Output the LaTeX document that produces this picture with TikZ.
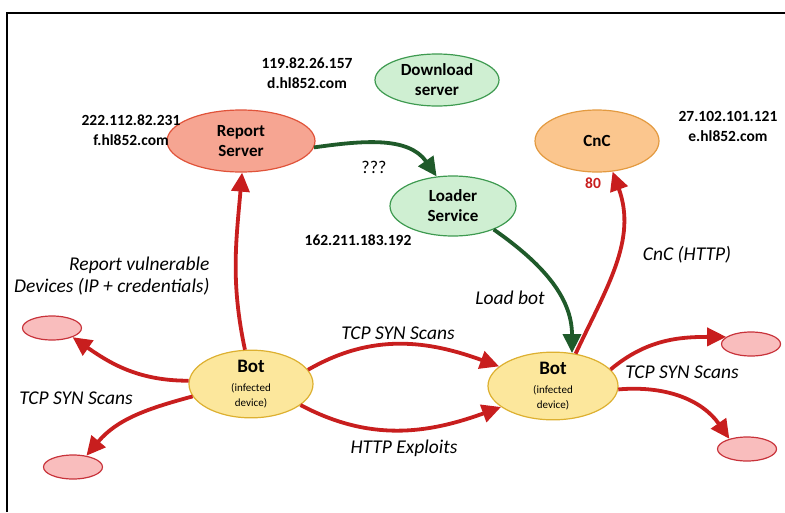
\documentclass[tikz,border=0pt]{standalone}
\usepackage{fontspec}
\setmainfont{Carlito}
\usetikzlibrary{shapes.geometric, arrows.meta}

\definecolor{arrred}{HTML}{C81E1E}
\definecolor{arrgreen}{HTML}{1F5A2A}
\definecolor{repfill}{HTML}{F6A592}
\definecolor{repline}{HTML}{E0533A}
\definecolor{grnfill}{HTML}{CFEFD2}
\definecolor{grnline}{HTML}{3E9A50}
\definecolor{cncfill}{HTML}{FBC68E}
\definecolor{cncline}{HTML}{E39A40}
\definecolor{botfill}{HTML}{FCE79C}
\definecolor{botline}{HTML}{DDB030}
\definecolor{tgtfill}{HTML}{F9BDBD}
\definecolor{tgtline}{HTML}{C8323A}

\begin{document}
\begin{tikzpicture}[x=1pt, y=1pt,
    every node/.style={font=\fontsize{16.5}{20}\selectfont},
    server/.style={ellipse, draw, line width=1.2pt, inner sep=0pt, align=center,
      font=\bfseries\fontsize{17}{20}\selectfont},
    bot/.style={ellipse, draw=botline, fill=botfill, line width=1.2pt, inner sep=0pt,
      align=center, minimum height=56pt},
    target/.style={ellipse, draw=tgtline, fill=tgtfill, line width=1.2pt, inner sep=0pt,
      minimum width=59pt, minimum height=24pt},
    iptext/.style={align=center, font=\bfseries\fontsize{15.5}{20}\selectfont},
    lbl/.style={font=\itshape\fontsize{19.5}{22}\selectfont},
    redarrow/.style={draw=arrred, line width=3.8pt, -{Triangle[length=19pt, width=18pt]}},
    greenarrow/.style={draw=arrgreen, line width=3.8pt, -{Triangle[length=19pt, width=18pt]}}]

  \useasboundingbox (0,0) rectangle (785,-512);
  \draw[line width=1.6pt] (7,-512) -- (7,-13) -- (785,-13);

  % servers
  \node[server, draw=grnline, fill=grnfill, minimum width=124pt, minimum height=52pt] (dl) at (437,-80) {Download\\server};
  \node[server, draw=repline, fill=repfill, minimum width=148pt, minimum height=62pt] (rep) at (241,-141) {Report\\Server};
  \node[server, draw=grnline, fill=grnfill, minimum width=126pt, minimum height=60pt] (loader) at (453,-206) {Loader\\Service};
  \node[server, draw=cncline, fill=cncfill, minimum width=124pt, minimum height=62pt] (cnc) at (597,-141) {CnC};

  % bots
  \node[bot, minimum width=124pt] (botL) at (251,-384) {{\bfseries\fontsize{19}{19}\selectfont Bot}\\[-1pt]{\fontsize{11}{12}\selectfont (infected}\\[-5pt]{\fontsize{11}{12}\selectfont device)}};
  \node[bot, minimum width=130pt, minimum height=57pt] (botR) at (553,-386) {{\bfseries\fontsize{19}{19}\selectfont Bot}\\[-1pt]{\fontsize{11}{12}\selectfont (infected}\\[-5pt]{\fontsize{11}{12}\selectfont device)}};

  % scanned devices
  \node[target] (tgt1) at (52,-328) {};
  \node[target] (tgt2) at (73,-467) {};
  \node[target] (tgt3) at (751,-344) {};
  \node[target] (tgt4) at (747,-449) {};

  % addresses
  \node[iptext] (ipdl) at (307,-73) {119.82.26.157\\d.hl852.com};
  \node[iptext] (iprep) at (131,-130) {222.112.82.231\\f.hl852.com};
  \node[iptext] (iploader) at (358,-240) {162.211.183.192};
  \node[iptext] (ipcnc) at (728,-126) {27.102.101.121\\e.hl852.com};
  \node[iptext, text=arrred] (port) at (593,-183) {80};

  % arrows
  \draw[greenarrow] (rep.-5) to[out=8, in=125] (loader.119);
  \draw[greenarrow] (loader.-30) to[out=-35, in=90] (botR.60);
  \draw[redarrow] (botL.100) to[out=102, in=-95] (rep.-88);
  \draw[redarrow] (botR.55) to[out=65, in=-70] (cnc.-63);
  \draw[redarrow] (botL.14) to[out=30, in=160] (botR.160);
  \draw[redarrow] (botL.-23) to[out=-28, in=-160] (botR.-158);
  \draw[redarrow] (botL.177) to[out=180, in=-35] (tgt1.-24);
  \draw[redarrow] (botL.-168) to[out=195, in=50] (tgt2.40);
  \draw[redarrow] (botR.16) to[out=40, in=180] (tgt3.164);
  \draw[redarrow] (botR.-3) to[out=5, in=125] (tgt4.150);

  % labels
  \node[font=\fontsize{18}{20}\selectfont] (qq) at (374,-167) {???};
  \node[lbl] (lcnc) at (687,-255) {CnC (HTTP)};
  \node[lbl] (lload) at (510,-298) {Load bot};
  \node[lbl, align=right, anchor=east] (lrep) at (213,-276) {Report vulnerable\\Devices (IP + credentials)};
  \node[lbl] (lscanL) at (76,-398) {TCP SYN Scans};
  \node[lbl] (lscanM) at (398,-333) {TCP SYN Scans};
  \node[lbl] (lhttp) at (404,-448) {HTTP Exploits};
  \node[lbl] (lscanR) at (682,-372) {TCP SYN Scans};
\end{tikzpicture}
\end{document}
